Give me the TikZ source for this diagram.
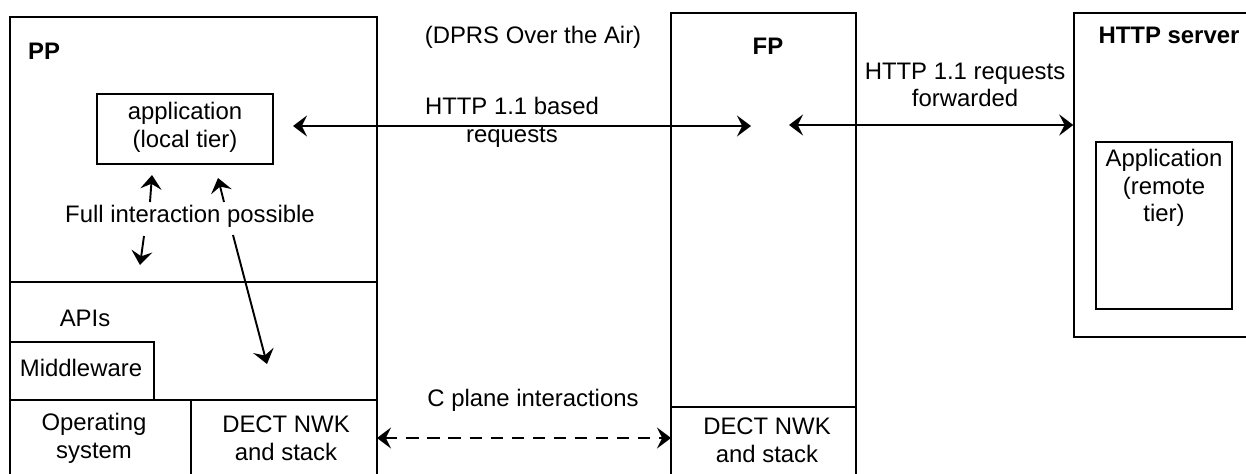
\documentclass[tikz,border=0pt]{standalone}
\usepackage{fontspec}
\setmainfont{Liberation Sans}
\usetikzlibrary{arrows.meta, fit, positioning}

\begin{document}
\begin{tikzpicture} [
    x=0.02cm, y=-0.02cm,
    edge/.style={{Stealth[length=8pt, width=12pt, inset=3pt]}-{Stealth[length=8pt, width=12pt, inset=3pt]}, line width=1.1pt},
    oneway/.style={-{Stealth[length=8pt, width=12pt, inset=3pt]}, line width=1.1pt},
    box/.style={rectangle, draw, line width=0.8pt, inner sep=0pt},
    txt/.style={align=center, inner sep=1pt, font=\fontsize{13.6}{15.8}\selectfont},
    heading/.style={inner sep=1pt, font=\fontsize{13.6}{15.8}\selectfont\bfseries}
]

\useasboundingbox (0, 0) rectangle (1246, 473);
\clip (0, 0) rectangle (1246, 473);

\node[box, fit={(10, 17) (377, 480)}] (pp) {};
\node[box, fit={(10, 282) (377, 400)}] (apiLayer) {};
\node[box, fit={(10, 342) (154, 400)}] (middleware) {};
\node[box, fit={(10, 400) (191, 480)}] (osBox) {};
\node[box, fit={(191, 400) (377, 480)}] (ppNwk) {};
\node[box, fit={(97, 94) (273, 164)}] (localApp) {};

\node[box, fit={(671, 13) (856, 480)}] (fp) {};
\node[box, fit={(671, 407) (856, 480)}] (fpNwk) {};

\node[box, fit={(1074, 13) (1252, 337)}] (server) {};
\node[box, fit={(1096, 142) (1232, 309)}] (remoteApp) {};

\node[heading] (ppTitle) at (44, 51) {PP};
\node[txt] (localAppText) at (185, 127) {application\\(local tier)};
\node[txt] (interaction) at (190, 216) {Full interaction possible};
\node[txt] (apis) at (85, 318) {APIs};
\node[txt] (mwText) at (81, 368) {Middleware};
\node[txt] (osText) at (94, 438) {Operating\\system};
\node[txt] (ppNwkText) at (286, 438) {DECT NWK\\and stack};

\node[txt] (air) at (533, 37) {(DPRS Over the Air)};
\node[txt] (httpBased) at (512, 122) {HTTP 1.1 based\\requests};
\node[txt] (cPlane) at (533, 400) {C plane interactions};

\node[heading] (fpTitle) at (768, 46) {FP};
\node[txt] (fpNwkText) at (767, 440) {DECT NWK\\and stack};

\node[txt] (forwarded) at (965, 85) {HTTP 1.1 requests\\forwarded};
\node[heading] (serverTitle) at (1169, 35) {HTTP server};
\node[txt, anchor=north] (remoteAppText) at (1164, 147) {Application\\(remote\\tier)};

\coordinate (httpL) at (293, 126);
\coordinate (httpR) at (751, 126);
\coordinate (fwdL) at (789, 125);
\coordinate (upA) at (150, 202);
\coordinate (upATip) at (152, 175);
\coordinate (upB) at (224, 202);
\coordinate (upBTip) at (218, 178);
\coordinate (downA) at (144, 236);
\coordinate (downATip) at (140, 265);
\coordinate (downB) at (233, 235);
\coordinate (downBTip) at (267, 364);
\coordinate (cL) at (377, 438);
\coordinate (cR) at (671, 438);

\draw[edge] (httpL) -- (httpR);
\draw[edge] (fwdL) -- (server.west |- fwdL);
\draw[oneway] (upA) -- (upATip);
\draw[oneway] (upB) -- (upBTip);
\draw[oneway] (downA) -- (downATip);
\draw[oneway] (downB) -- (downBTip);
\draw[edge, dashed, dash pattern=on 7pt off 5pt] (cL) -- (cR);

\end{tikzpicture}
\end{document}
